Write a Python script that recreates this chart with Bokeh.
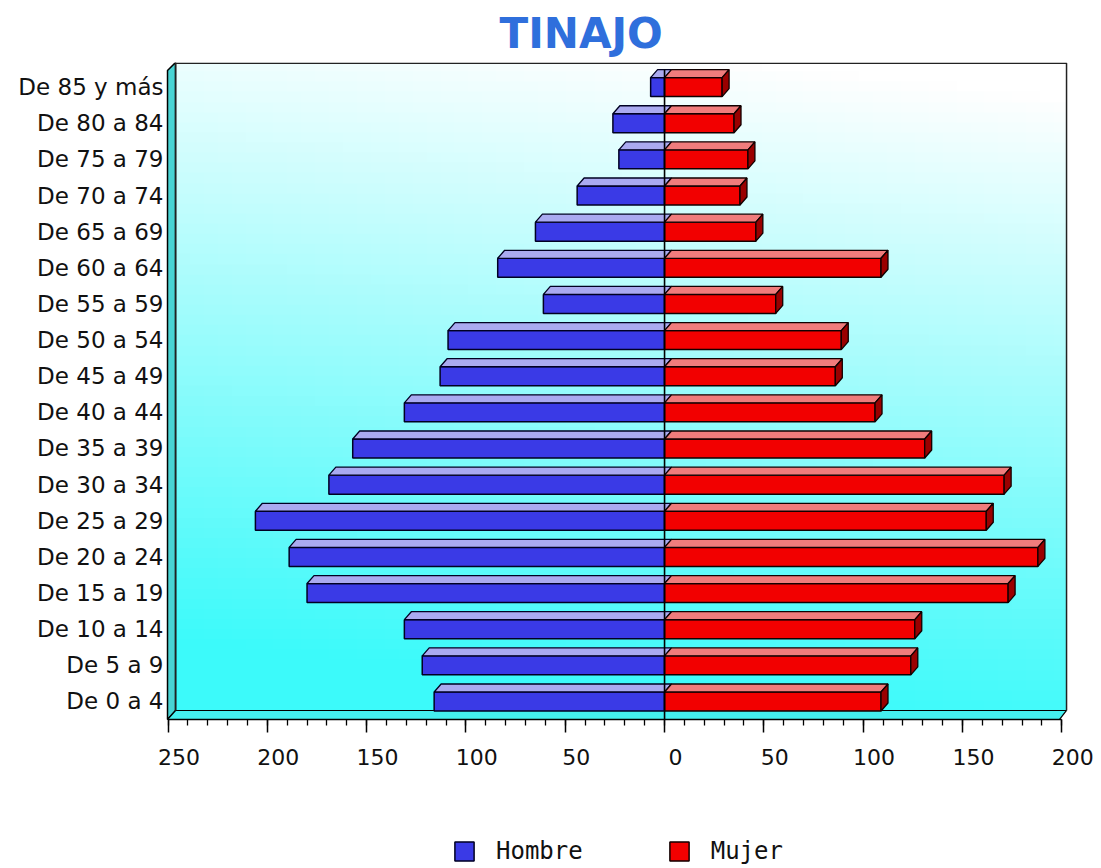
import numpy as np
from bokeh.plotting import figure
from bokeh.models import (Range1d, LinearAxis, FixedTicker, CustomJSTickFormatter,
                          Legend, LegendItem, Title)
from bokeh.embed import file_html
from bokeh.resources import INLINE

# ---------------- data ----------------
ages = ["De 0 a 4", "De 5 a 9", "De 10 a 14", "De 15 a 19", "De 20 a 24",
        "De 25 a 29", "De 30 a 34", "De 35 a 39", "De 40 a 44", "De 45 a 49",
        "De 50 a 54", "De 55 a 59", "De 60 a 64", "De 65 a 69", "De 70 a 74",
        "De 75 a 79", "De 80 a 84", "De 85 y más"]
hombre = [116, 122, 131, 180, 189, 206, 169, 157, 131, 113,
          109, 61, 84, 65, 44, 23, 26, 7]
mujer = [109, 124, 126, 173, 188, 162, 171, 131, 106, 86,
         89, 56, 109, 46, 38, 42, 35, 29]
x_ticks = [-250, -200, -150, -100, -50, 0, 50, 100, 150, 200]
x_minor = list(range(-250, 201, 10))
title_text = "TINAJO"

# ---------------- geometry / style ----------------
FX0, FX1 = -334.34, 219.5   # frame x extent (data), frame spans the whole width
XL = -250.25                # front left edge (axis start)
XR = 202.4                  # back wall right
XF = 198.9                  # floor front right
YF, Y1 = -4.566, 17.68      # frame y extent (data)
Y0 = -0.498                 # axis / floor front
H = 0.263     # half bar height (data units)
DY = 0.221    # 3D depth vertical
DX = 3.5      # 3D depth horizontal
XB = -246.2   # back wall left
YB = -0.249   # back wall bottom

rows = list(range(len(ages)))

p = figure(width=1100, height=866, x_range=Range1d(FX0, FX1), y_range=Range1d(YF, Y1),
           output_backend="svg", toolbar_location=None,
           min_border_left=0, min_border_right=0, min_border_top=62,
           min_border_bottom=0)
p.grid.visible = False
p.outline_line_color = None
p.background_fill_color = "white"
p.border_fill_color = "white"

# gradient back wall
GH, GW = 64, 64
img = np.empty((GH, GW), dtype=np.uint32)
view = img.view(dtype=np.uint8).reshape((GH, GW, 4))
for r in range(GH):
    v = 1.0 - r / (GH - 1)
    for c in range(GW):
        u = c / (GW - 1)
        t = min(max(v * 1.0 + (1 - u) * 0.15 - 0.05, 0.0), 1.0)
        view[r, c, 0] = int(255 * (1 - t) + 60 * t)
        view[r, c, 1] = int(255 * (1 - t) + 250 * t)
        view[r, c, 2] = int(255 * (1 - t) + 250 * t)
        view[r, c, 3] = 255
p.image_rgba(image=[img], x=XB, y=YB, dw=XR - XB, dh=Y1 - YB)

# side wall
p.patch(x=[XL, XB, XB, XL], y=[17.46, Y1, YB, Y0], fill_color="#48d4d4",
        line_color="black", line_width=1.5)
# floor
p.patch(x=[XL, XB, XR, XF], y=[Y0, YB, YB, Y0], fill_color="#44f0f0",
        line_color="black", line_width=1.2)
# back wall outline
p.line(x=[XB, XB, XR, XR], y=[YB, Y1 - 0.02, Y1 - 0.02, YB],
       line_color="#222222", line_width=1.5)

# blue bars
left = [-v for v in hombre]
bf = p.hbar(y=rows, left=left, right=0, height=2 * H, fill_color="#3a3ae6",
            line_color="#000022", line_width=1.5)
p.patches(xs=[[l, l + DX, DX, 0] for l in left],
          ys=[[i + H, i + H + DY, i + H + DY, i + H] for i in rows],
          fill_color="#aaaaf0", line_color="#000022", line_width=1.3)

# red bars
rf = p.hbar(y=rows, left=0, right=mujer, height=2 * H, fill_color="#f20000",
            line_color="#110000", line_width=1.5)
p.patches(xs=[[0, DX, m + DX, m] for m in mujer],
          ys=[[i + H, i + H + DY, i + H + DY, i + H] for i in rows],
          fill_color="#f07c7c", line_color="#110000", line_width=1.3)
p.patches(xs=[[m, m + DX, m + DX, m] for m in mujer],
          ys=[[i - H, i - H + DY, i + H + DY, i + H] for i in rows],
          fill_color="#9a0000", line_color="#110000", line_width=1.3)

# zero line
p.segment(x0=[0], y0=[Y0], x1=[0], y1=[17 + H + DY], line_color="black", line_width=1.6)

# y axis (category labels), drawn at the left wall
ya = p.yaxis[0]
ya.fixed_location = XL
ya.ticker = FixedTicker(ticks=rows)
ya.major_label_overrides = {i: a for i, a in zip(rows, ages)}
ya.axis_line_color = None
ya.major_tick_line_color = None
ya.minor_tick_line_color = None
ya.major_tick_out = 0
ya.major_tick_in = 0
ya.minor_tick_out = 0
ya.major_label_standoff = 4
ya.major_label_text_font = "DejaVu Sans"
ya.major_label_text_font_size = "23px"
ya.major_label_text_color = "#111111"

# x axis (ticks), drawn at the floor front edge
xa = p.xaxis[0]
xa.fixed_location = Y0
xa.ticker = FixedTicker(ticks=x_ticks, minor_ticks=x_minor)
xa.formatter = CustomJSTickFormatter(code="return '';")
xa.bounds = (-250, 200)
xa.axis_line_color = "black"
xa.axis_line_width = 1.5
xa.major_tick_out = 13
xa.major_tick_in = 0
xa.minor_tick_out = 6
xa.minor_tick_in = 0
xa.major_tick_line_width = 1.5
xa.minor_tick_line_width = 1.3
xa.major_label_standoff = 0
xa.major_label_text_font_size = "1px"

# x tick labels (slightly shifted right, as in the original)
S = 5.5
p.extra_x_ranges = {"lab": Range1d(FX0 - S, FX1 - S)}
ax2 = LinearAxis(x_range_name="lab", fixed_location=Y0, ticker=FixedTicker(ticks=x_ticks),
                 formatter=CustomJSTickFormatter(code="return Math.abs(tick).toString();"),
                 axis_line_color=None, major_tick_line_color=None,
                 minor_tick_line_color=None, major_tick_out=0, minor_tick_out=0,
                 major_tick_in=0, minor_tick_in=0,
                 major_label_text_font="DejaVu Sans", major_label_text_font_size="22px",
                 major_label_text_color="#111111", major_label_standoff=30)
p.add_layout(ax2, "below")

# title
p.add_layout(Title(text=title_text, align="left", offset=499,
                   text_font="DejaVu Sans", text_font_style="bold",
                   text_font_size="42px", text_color="#2f6fdc"), "above")

# legend
legend = Legend(items=[LegendItem(label="Hombre", renderers=[bf]),
                       LegendItem(label="Mujer", renderers=[rf])],
                orientation="horizontal", location=(452, 1),
                label_text_font="DejaVu Sans Mono", label_text_font_size="24px",
                label_text_color="#111111",
                glyph_width=24, glyph_height=24, spacing=84, label_standoff=20,
                border_line_color=None, background_fill_alpha=0, padding=0, margin=0)
p.add_layout(legend, "center")

open("out.html", "w").write(file_html(p, INLINE))
